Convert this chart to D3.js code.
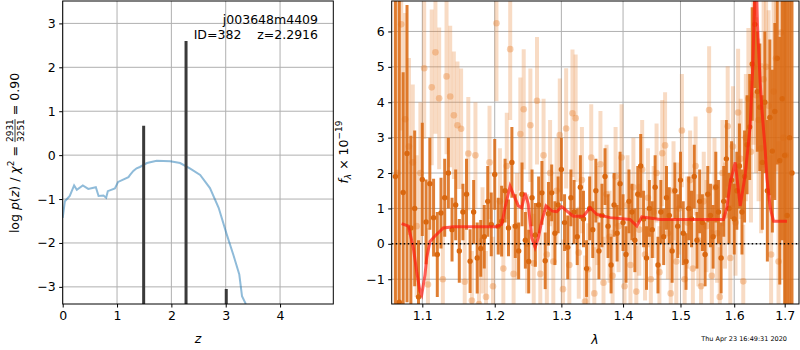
<!DOCTYPE html>
<html>
<head>
<meta charset="utf-8">
<script src="https://cdn.jsdelivr.net/npm/d3@7"></script>
<style>
body { margin: 0; background: #fff; }
svg { font-family: "DejaVu Sans", sans-serif; }
</style>
</head>
<body>
<div id="chart"></div>
<script>
// p(z) panel
let pzZ = [0, 0.04, 0.13, 0.21, 0.26, 0.37, 0.47, 0.61, 0.66, 0.75, 0.80, 0.83, 0.96, 1.02, 1.21, 1.24, 1.30, 1.36, 1.42, 1.55, 1.73, 1.98, 2.16, 2.34, 2.53, 2.71, 2.87, 3.02, 3.14, 3.25, 3.30, 3.37]
let pzLog = [-1.43, -1.05, -0.93, -0.69, -0.79, -0.69, -0.77, -0.73, -0.93, -0.92, -0.97, -0.82, -0.76, -0.61, -0.50, -0.45, -0.36, -0.30, -0.27, -0.18, -0.13, -0.14, -0.18, -0.30, -0.45, -0.75, -1.20, -1.81, -2.27, -2.72, -3.21, -3.39]
let peakZ = [1.49, 2.27, 3.01]
let peakVal = [0.67, 2.6, -3.05]
let pzXTicks = [0, 1, 2, 3, 4]
let pzYTicks = [-3, -2, -1, 0, 1, 2, 3]

// spectrum panel
let darkWave = [1.065, 1.070, 1.075, 1.080, 1.085, 1.090, 1.095, 1.100, 1.105, 1.110,
    1.115, 1.120, 1.125, 1.130, 1.135, 1.140, 1.145, 1.150, 1.155, 1.160,
    1.165, 1.170, 1.175, 1.180, 1.185, 1.190, 1.195, 1.200, 1.205, 1.210,
    1.215, 1.220, 1.225, 1.230, 1.235, 1.240, 1.245, 1.250, 1.255, 1.260,
    1.265, 1.270, 1.275, 1.280, 1.285, 1.290, 1.295, 1.300, 1.305, 1.310,
    1.315, 1.320, 1.325, 1.330, 1.335, 1.340, 1.345, 1.350, 1.355, 1.360,
    1.365, 1.370, 1.375, 1.380, 1.385, 1.390, 1.395, 1.400, 1.405, 1.410,
    1.415, 1.420, 1.425, 1.430, 1.435, 1.440, 1.445, 1.450, 1.455, 1.460,
    1.465, 1.470, 1.475, 1.480, 1.485, 1.490, 1.495, 1.500, 1.505, 1.510,
    1.515, 1.520, 1.525, 1.530, 1.535, 1.540, 1.545, 1.550, 1.555, 1.560,
    1.565, 1.570, 1.575, 1.580, 1.585, 1.590, 1.595, 1.600, 1.605, 1.610,
    1.615, 1.620, 1.625, 1.630, 1.635, 1.640, 1.645, 1.650, 1.655, 1.660,
    1.665, 1.670, 1.675, 1.680, 1.685, 1.690, 1.695, 1.700, 1.705, 1.710,
    1.715]
let darkFlux = [1.9, -1.65, 1.45, 2.55, 0.45, 1.0, -1.5, 1.82, 0.62, 1.7,
    0.74, -0.3, 0.87, 1.3, 2.0, 0.4, 1.1, -0.2, 0.9, 1.4,
    -0.49, 0.9, -0.4, -0.13, 0.2, 1.2, 0.55, 1.96, 0.5, 0.64,
    1.5, 0.45, 2.3, 0.5, -0.2, 1.4, 0.1, -0.5, 1.3, 0.25,
    1.1, 1.44, -0.48, 0.85, 1.44, 0.3, 1.1, 2.1, 0.6, -0.1,
    1.3, 0.9, 0.2, 1.6, 0.7, -0.7, 1.0, 0.4, 1.5, -0.2,
    0.8, 1.9, 0.5, -0.6, 1.1, 0.3, 1.7, 0.6, -0.3, 1.2,
    0.9, 0.1, 1.4, 2.2, 0.7, -0.4, 1.0, 0.4, 1.6, -0.6,
    0.9, 0.2, 1.3, 0.8, -0.2, 1.5, 0.5, 1.8, 0.3, -0.5,
    1.0, 0.7, 1.9, 0.1, 1.2, 0.6, -0.3, 1.4, 0.8, 0.2,
    1.6, 0.9, -0.4, 1.2, 2.4, 1.0, 1.8, 0.7, 1.5, 2.2,
    0.9, 1.9, 2.8, 3.3, 5.08, 6.2, 4.3, 3.86, 2.3, 4.0,
    1.5, 3.57, 2.62, 3.74, 5.24, 2.35, 4.1, 2.5, 0.8, 3.0,
    2.0]
let darkErr = [9, 9, 3.4, 4.2, 2.6, 2.2, 1.6, 1.6, 1.2, 1.3,
    1.1, 1.2, 1.0, 1.1, 1.0, 0.9, 1.0, 0.9, 0.8, 1.0,
    0.9, 0.9, 1.0, 0.8, 0.9, 1.0, 0.9, 1.0, 0.8, 1.0,
    0.9, 0.8, 1.0, 0.9, 0.8, 0.9, 0.8, 0.9, 0.8, 0.9,
    0.8, 0.9, 0.8, 0.9, 0.8, 0.9, 0.8, 0.9, 0.8, 0.9,
    0.8, 0.9, 0.8, 0.9, 0.8, 0.8, 0.9, 0.8, 0.9, 0.8,
    0.9, 0.8, 0.9, 0.8, 0.9, 0.8, 0.9, 0.8, 0.8, 0.9,
    0.8, 0.9, 0.8, 0.9, 0.8, 0.9, 0.8, 0.8, 0.9, 0.8,
    0.9, 0.8, 0.9, 0.8, 0.9, 0.8, 0.9, 0.8, 0.9, 0.8,
    0.9, 0.8, 0.9, 0.8, 0.9, 0.8, 0.9, 0.8, 0.9, 0.9,
    1.0, 0.9, 1.0, 1.0, 1.1, 1.0, 1.1, 1.0, 1.1, 1.2,
    1.2, 1.3, 1.4, 1.5, 1.6, 1.8, 1.7, 1.8, 1.9, 2.0,
    2.0, 2.2, 2.3, 2.5, 3.0, 3.5, 4.0, 6, 8, 9,
    9]

let lightWave = [1.0675, 1.0725, 1.0775, 1.0825, 1.0875, 1.0925, 1.0975, 1.1025, 1.1075, 1.1125,
    1.1175, 1.1225, 1.1275, 1.1325, 1.1375, 1.1425, 1.1475, 1.1525, 1.1575, 1.1625,
    1.1675, 1.1725, 1.1775, 1.1825, 1.1875, 1.1925, 1.1975, 1.2025, 1.2075, 1.2125,
    1.2175, 1.2225, 1.2275, 1.2325, 1.2375, 1.2425, 1.2475, 1.2525, 1.2575, 1.2625,
    1.2675, 1.2725, 1.2775, 1.2825, 1.2875, 1.2925, 1.2975, 1.3025, 1.3075, 1.3125,
    1.3175, 1.3225, 1.3275, 1.3325, 1.3375, 1.3425, 1.3475, 1.3525, 1.3575, 1.3625,
    1.3675, 1.3725, 1.3775, 1.3825, 1.3875, 1.3925, 1.3975, 1.4025, 1.4075, 1.4125,
    1.4175, 1.4225, 1.4275, 1.4325, 1.4375, 1.4425, 1.4475, 1.4525, 1.4575, 1.4625,
    1.4675, 1.4725, 1.4775, 1.4825, 1.4875, 1.4925, 1.4975, 1.5025, 1.5075, 1.5125,
    1.5175, 1.5225, 1.5275, 1.5325, 1.5375, 1.5425, 1.5475, 1.5525, 1.5575, 1.5625,
    1.5675, 1.5725, 1.5775, 1.5825, 1.5875, 1.5925, 1.5975, 1.6025, 1.6075, 1.6125,
    1.6175, 1.6225, 1.6275, 1.6325, 1.6375, 1.6425, 1.6475, 1.6525, 1.6575, 1.6625,
    1.6675, 1.6725, 1.6775, 1.6825, 1.6875, 1.6925, 1.6975, 1.7025]
let lightFlux = [2.0, 6.2, 3.52, 2.75, 2.3, 0.5, 2.0, 4.96, -1.15, 4.42,
    5.41, 4.11, -1.0, 4.73, 4.16, 3.63, 3.35, 3.25, -1.07, 2.55,
    -1.6, 2.5, -1.7, 0.1, -1.5, 2.3, -1.2, 6.23, 1.2, -0.7,
    2.2, 5.5, -0.85, 0.5, 3.1, 3.8, 0.0, 3.35, -0.55, 4.04,
    -0.85, 2.5, -0.3, 2.0, -0.5, 1.5, 3.07, -1.28, 3.26, -0.6,
    3.69, 3.55, -0.25, 1.8, -1.63, -0.72, 2.44, -1.4, 0.8, 2.25,
    -1.1, 1.4, 0.2, -0.9, 1.9, 0.5, 2.44, -1.2, 1.1, -0.6,
    1.6, -1.35, 0.4, 2.1, -0.3, 1.3, -1.0, 0.9, 2.0, -0.8,
    2.56, 2.78, 0.3, -1.4, 1.5, -0.5, 1.0, 3.2, -1.0, 0.6,
    1.8, -0.7, 2.2, 0.1, -1.2, 1.2, 0.5, 3.78, -0.9, 1.6,
    0.3, -1.5, 2.0, 0.8, 3.32, -0.4, 2.75, 0.6, 3.71, 2.4,
    -1.06, 3.0, 4.1, 2.6, 5.0, 4.2, 3.5, 2.7, 4.65, 5.0,
    3.9, -0.3, 4.3, 5.24, -0.5, 5.97, 3.0, 2.5]
let lightErr = [5, 3, 3, 2.5, 2.2, 2.0, 2.0, 2.0, 1.6, 2.2,
    2.3, 2.0, 1.5, 2.2, 2.0, 1.8, 1.8, 1.7, 1.5, 1.6,
    1.4, 1.5, 1.4, 1.5, 1.3, 1.6, 1.4, 2.2, 1.5, 1.4,
    1.5, 2.0, 1.4, 1.5, 1.6, 1.7, 1.4, 1.6, 1.4, 1.8,
    1.4, 1.6, 1.4, 1.5, 1.4, 1.5, 1.6, 1.4, 1.7, 1.4,
    1.8, 1.8, 1.3, 1.5, 1.3, 1.3, 1.5, 1.3, 1.4, 1.5,
    1.3, 1.4, 1.3, 1.3, 1.4, 1.3, 1.5, 1.3, 1.4, 1.3,
    1.4, 1.3, 1.3, 1.4, 1.3, 1.4, 1.3, 1.3, 1.4, 1.3,
    1.5, 1.5, 1.3, 1.3, 1.4, 1.3, 1.3, 1.6, 1.3, 1.3,
    1.4, 1.3, 1.4, 1.3, 1.3, 1.4, 1.3, 1.8, 1.3, 1.4,
    1.4, 1.4, 1.5, 1.5, 1.7, 1.5, 1.7, 1.5, 1.8, 1.7,
    1.6, 1.8, 2.0, 2.0, 2.2, 2.2, 2.3, 2.4, 2.5, 2.6,
    2.7, 2.8, 3.0, 3.2, 3.4, 3.6, 4.0, 4.5]

let modelWave = [1.0730, 1.0817, 1.0882, 1.0926, 1.0969, 1.0992, 1.1036, 1.1058, 1.1102, 1.1169,
    1.1281, 1.1418, 1.2029, 1.2101, 1.2149, 1.2223, 1.2263, 1.2345, 1.2396, 1.2446,
    1.2494, 1.2546, 1.2596, 1.2645, 1.2697, 1.2763, 1.2851, 1.2928, 1.3007, 1.3137,
    1.3189, 1.3349, 1.3457, 1.3565, 1.3784, 1.4119, 1.4233, 1.4319, 1.4638, 1.5795,
    1.5860, 1.5923, 1.6019, 1.6116, 1.6213, 1.6310, 1.6362, 1.6395, 1.6428, 1.6454,
    1.6507, 1.6541, 1.6606, 1.6641, 1.6707, 1.6774, 1.7046]
let modelFlux = [0.57, 0.50, -0.11, -0.78, -1.34, -1.44, -0.87, -0.40, 0.07, 0.22,
    0.45, 0.48, 0.48, 0.55, 1.02, 1.63, 1.44, 1.07, 1.02, 1.44,
    1.12, 0.17, -0.10, 0.17, 0.64, 1.07, 0.93, 0.91, 1.05, 0.85,
    0.78, 0.78, 1.02, 0.83, 0.74, 0.69, 0.50, 0.76, 0.69, 0.69,
    1.02, 1.73, 2.30, 1.07, 1.96, 3.33, 5.03, 6.86, 7.60, 6.16,
    4.57, 3.80, 2.67, 1.85, 1.02, 0.64, 0.64]
let specXTicks = [1.1, 1.2, 1.3, 1.4, 1.5, 1.6, 1.7]
let specYTicks = [-1, 0, 1, 2, 3, 4, 5, 6]

let width = 800
let height = 350
let fontSize = '12.5px'
let dark = '#d9670f'

let svg = d3.select('#chart').append('svg')
    .attr('width', width)
    .attr('height', height)

let xz = d3.scaleLinear().domain([0, 4.98]).range([62.7, 333.3])
let yz = d3.scaleLinear().domain([-3.39, 3.51]).range([304, 1])
let xl = d3.scaleLog().domain([1.0603, 1.7295]).range([391.7, 799])
let yf = d3.scaleLinear().domain([-1.70, 6.86]).range([304, 1])

function panel(id, x, y, xTicks, yTicks, xFmt, yFmt) {
    let [x0, x1] = x.range()
    let [y1, y0] = y.range()
    svg.append('clipPath').attr('id', id)
        .append('rect').attr('x', x0).attr('y', y0).attr('width', x1 - x0).attr('height', y1 - y0)
    let grid = svg.append('g').attr('stroke', '#b0b0b0').attr('stroke-width', 1)
    xTicks.forEach(t => {
        grid.append('line').attr('x1', x(t)).attr('x2', x(t)).attr('y1', y0).attr('y2', y1)
    })
    yTicks.forEach(t => {
        grid.append('line').attr('x1', x0).attr('x2', x1).attr('y1', y(t)).attr('y2', y(t))
    })
    let content = svg.append('g').attr('clip-path', `url(#${id})`)
    let axes = () => {
        svg.append('rect')
            .attr('x', x0).attr('y', y0).attr('width', x1 - x0).attr('height', y1 - y0)
            .attr('fill', 'none').attr('stroke', 'black').attr('stroke-width', 1)
        let ax = svg.append('g').attr('transform', `translate(0,${y1})`)
            .call(d3.axisBottom(x).tickValues(xTicks).tickFormat(xFmt).tickSize(3.5).tickPadding(3.5))
        let ay = svg.append('g').attr('transform', `translate(${x0},0)`)
            .call(d3.axisLeft(y).tickValues(yTicks).tickFormat(yFmt).tickSize(3.5).tickPadding(3.5))
        ;[ax, ay].forEach(a => {
            a.select('.domain').remove()
            a.selectAll('text').style('font-size', fontSize).style('font-family', '"DejaVu Sans"').attr('fill', 'black')
            a.selectAll('line').attr('stroke', 'black')
        })
    }
    return {content, axes}
}

// left panel
let pz = panel('clipL', xz, yz, pzXTicks, pzYTicks, d3.format('d'), d3.format('d'))
pz.content.append('path')
    .datum(pzZ.map((z, i) => [z, pzLog[i]]))
    .attr('d', d3.line().x(d => xz(d[0])).y(d => yz(d[1])))
    .attr('fill', 'none')
    .attr('stroke', '#1f77b4')
    .attr('stroke-opacity', 0.5)
    .attr('stroke-width', 2)
pz.content.selectAll('.peak')
    .data(peakZ)
    .enter()
    .append('line')
    .attr('x1', d => xz(d)).attr('x2', d => xz(d))
    .attr('y1', yz(-3.39))
    .attr('y2', (d, i) => yz(peakVal[i]))
    .attr('stroke', '#3a3a3a')
    .attr('stroke-width', 3)
pz.axes()

svg.append('text').attr('x', 318).attr('y', 24).attr('text-anchor', 'end')
    .style('font-size', fontSize).text('j003648m4409')
svg.append('text').attr('x', 318).attr('y', 39).attr('text-anchor', 'end')
    .style('font-size', fontSize).attr('xml:space', 'preserve').text('ID=382    z=2.2916')

// right panel
let sp = panel('clipR', xl, yf, specXTicks, specYTicks, d3.format('.1f'), d3.format('d'))
let light = lightWave.map((w, i) => ({w: w, f: lightFlux[i], e: lightErr[i]}))
let darkPts = darkWave.map((w, i) => ({w: w, f: darkFlux[i], e: darkErr[i]}))

sp.content.selectAll('.lbar').data(light).enter().append('line')
    .attr('x1', d => xl(d.w)).attr('x2', d => xl(d.w))
    .attr('y1', d => yf(d.f - d.e)).attr('y2', d => yf(d.f + d.e))
    .attr('stroke', '#e8883a').attr('stroke-opacity', 0.3).attr('stroke-width', 4)
sp.content.selectAll('.ldot').data(light).enter().append('circle')
    .attr('cx', d => xl(d.w)).attr('cy', d => yf(d.f)).attr('r', 3.3)
    .attr('fill', '#e8883a').attr('fill-opacity', 0.4)
sp.content.selectAll('.dbar').data(darkPts).enter().append('line')
    .attr('x1', d => xl(d.w)).attr('x2', d => xl(d.w))
    .attr('y1', d => yf(d.f - d.e)).attr('y2', d => yf(d.f + d.e))
    .attr('stroke', dark).attr('stroke-opacity', 0.85).attr('stroke-width', 3)
sp.content.selectAll('.ddot').data(darkPts).enter().append('circle')
    .attr('cx', d => xl(d.w)).attr('cy', d => yf(d.f)).attr('r', 2.7)
    .attr('fill', dark)
sp.content.append('path')
    .datum(modelWave.map((w, i) => [w, modelFlux[i]]))
    .attr('d', d3.line().x(d => xl(d[0])).y(d => yf(d[1])))
    .attr('fill', 'none')
    .attr('stroke', '#ff1a10')
    .attr('stroke-opacity', 0.7)
    .attr('stroke-width', 3)
sp.content.append('line')
    .attr('x1', 391.7).attr('x2', 799).attr('y1', yf(0)).attr('y2', yf(0))
    .attr('stroke', 'black').attr('stroke-width', 1.5).attr('stroke-dasharray', '1.5,2.5')
sp.axes()

// axis labels
function richText(g, parts) {
    let x = 0
    parts.forEach(p => {
        if (p.num) {
            let n = g.append('text').attr('x', x).attr('y', -6).style('font-size', '9px').text(p.num)
            let d = g.append('text').attr('x', x).attr('y', 4.5).style('font-size', '9px').text(p.den)
            let w = Math.max(n.node().getComputedTextLength(), d.node().getComputedTextLength())
            g.append('line').attr('x1', x).attr('x2', x + w).attr('y1', -4).attr('y2', -4)
                .attr('stroke', 'black').attr('stroke-width', 0.8)
            x += w
            return
        }
        let t = g.append('text').attr('x', x).attr('y', p.dy || 0)
            .attr('xml:space', 'preserve')
            .style('font-size', p.size || fontSize).text(p.text)
        if (p.italic) t.style('font-style', 'italic')
        x += t.node().getComputedTextLength()
    })
    return x
}

let gl = svg.append('g')
let wl = richText(gl, [
    {text: 'log '}, {text: 'p', italic: true}, {text: '('}, {text: 'z', italic: true}, {text: ') / '},
    {text: 'χ', italic: true}, {text: '2', size: '9px', dy: -5}, {text: ' = '},
    {num: '2931', den: '3251'}, {text: ' = 0.90'}
])
gl.attr('transform', `translate(19,${153 + wl / 2}) rotate(-90)`)

let gr = svg.append('g')
let wr = richText(gr, [
    {text: 'f', italic: true}, {text: 'λ', italic: true, size: '9px', dy: 3}, {text: ' × 10'},
    {text: '−19', size: '9px', dy: -6}
])
gr.attr('transform', `translate(348,${152 + wr / 2}) rotate(-90)`)

svg.append('text').attr('x', 198).attr('y', 343).attr('text-anchor', 'middle')
    .style('font-size', fontSize).style('font-style', 'italic').text('z')
svg.append('text').attr('x', 595).attr('y', 344).attr('text-anchor', 'middle')
    .style('font-size', fontSize).style('font-style', 'italic').text('λ')
svg.append('text').attr('x', 787).attr('y', 341).attr('text-anchor', 'end')
    .style('font-size', '6.5px').text('Thu Apr 23 16:49:31 2020')
</script>
</body>
</html>
